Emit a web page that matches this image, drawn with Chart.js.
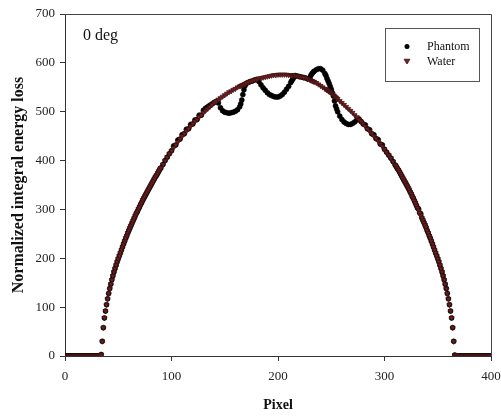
<!DOCTYPE html>
<html><head><meta charset="utf-8">
<script src="https://cdn.jsdelivr.net/npm/chart.js@4.4.1/dist/chart.umd.min.js"></script>
<style>html,body{margin:0;padding:0;background:#fff;overflow:hidden}</style>
</head><body>
<canvas id="c" width="501" height="417" style="display:block;width:501px;height:417px"></canvas>
<script>
const pixels = [0,1,2,3,4,5,6,7,8,9,10,11,12,13,14,15,16,17,18,19,20,21,22,23,24,25,26,27,28,29,30,31,32,33,34,35,36,37,38,39,40,41,42,43,44,45,46,47,48,49,50,51,52,53,54,55,56,57,58,59,60,61,62,63,64,65,66,67,68,69,70,71,72,73,74,75,76,77,78,79,80,81,82,83,84,85,86,87,88,89,90,
92,94,96,98,100,102,104,106,108,110,112,114,116,118,120,122,124,126,128,130,132,134,136,138,140,142,144,146,148,150,152,154,156,158,160,162,164,
165,166,167,168,169,170,
172,174,176,178,180,182,184,186,188,190,192,194,196,198,200,202,204,206,208,210,212,
213,214,215,216,
218,220,222,224,226,228,230,
231,232,233,234,
236,238,240,242,244,
245,246,247,248,249,250,251,252,253,254,255,256,
258,260,262,264,266,268,270,272,274,276,278,280,282,284,286,288,290,292,294,296,298,300,302,304,306,308,
310,311,312,313,314,315,316,317,318,319,320,321,322,323,324,325,326,327,328,329,330,331,332,333,334,335,336,337,338,339,340,341,342,343,344,345,346,347,348,349,350,351,352,353,354,355,356,357,358,359,360,361,362,363,364,365,366,367,368,369,370,371,372,373,374,375,376,377,378,379,380,381,382,383,384,385,386,387,388,389,390,391,392,393,394,395,396,397,398,399,400];

const water = [0,0,0,0,0,0,0,0,0,0,0,0,0,0,0,0,0,0,0,0,0,0,0,0,0,0,0,0,0,0,0,0,0,0,
3,30,58,78,92,105,117,128,138,147,156,164,
172,179,186,193,199,205,211,217,223,229,235,241,246,252,257,262,267,272,277,282,287,292,296,301,305,310,314,319,323,327,331,335,339,343,347,351,355,359,363,367,370,374,378,382,385,
392,400,407,414,420,426,432,438,444,450,455,460,465,470,475,480,484,489,493,498,502,506,510,514,518,521,525,528,531,534,537,540,542,545,547,550,552,
553,554,555,556,557,558,
560,562,563,565,566,568,569,570,571,572,573,574,575,575,576,576,576,576,576,575,575,
575,574,574,574,
573,572,571,570,569,567,565,
564,563,562,561,
559,556,553,550,547,
546,544,543,541,540,538,536,534,532,530,528,526,
522,518,514,510,506,502,498,493,489,484,480,475,470,465,460,455,450,445,440,434,429,423,417,411,405,398,
391,388,384,381,377,373,369,365,361,357,353,349,345,341,336,332,327,323,318,313,308,303,298,293,288,283,278,273,268,263,257,252,246,241,235,229,223,217,211,205,199,193,186,179,172,164,156,147,138,128,117,105,92,78,58,30,2,
0,0,0,0,0,0,0,0,0,0,0,0,0,0,0,0,0,0,0,0,0,0,0,0,0,0,0,0,0,0,0,0,0,0];

const phantom = [0,0,0,0,0,0,0,0,0,0,0,0,0,0,0,0,0,0,0,0,0,0,0,0,0,0,0,0,0,0,0,0,0,0,
3,30,58,78,92,105,117,128,138,147,156,164,
172,179,186,193,199,205,211,217,223,229,235,241,246,252,257,262,267,272,277,282,287,292,296,301,305,310,314,319,323,327,331,335,339,343,347,351,355,359,363,367,370,374,378,382,385,
392,400,407,414,420,430,432,442,444,453,455,464,465,474,475,483,484,493,493,503,507,510,513,516,519,521,518,508,502,499,498,497,498,499,501,504,510,
516,524,535,545,553,558,
560,562,563,565,566,562,555,549,544,539,535,533,531,530,530,532,535,540,546,552,560,
564,567,571,574,
573,572,571,570,569,567,570,
575,578,581,583,
586,588,588,585,578,
574,568,563,558,552,546,539,532,522,512,506,500,
491,484,479,476,474,474,476,479,483,485,480,475,473,465,463,455,453,445,443,434,432,423,417,411,405,398,
391,388,384,381,377,373,369,365,361,357,353,349,345,341,336,332,327,323,318,313,308,303,301,293,291,283,278,273,268,263,257,252,246,241,235,229,223,217,211,205,199,193,186,179,172,164,156,147,138,128,117,105,92,78,58,30,2,
0,0,0,0,0,0,0,0,0,0,0,0,0,0,0,0,0,0,0,0,0,0,0,0,0,0,0,0,0,0,0,0,0,0];

const xTicks = [0,100,200,300,400];
const yTicks = [0,100,200,300,400,500,600,700];
const seriesNames = ['Phantom','Water'];
const panelLabel = '0 deg';
const xTitle = 'Pixel';
const yTitle = 'Normalized integral energy loss';

const SERIF = "'Liberation Serif','Times New Roman',serif";
const phantomColor = '#000000';
const waterFill = '#6e2020';
const waterEdge = '#421111';
const axisColor = '#333333';

function drawCircle(ctx, x, y, r, fill) {
  ctx.beginPath(); ctx.arc(x, y, r, 0, Math.PI * 2); ctx.fillStyle = fill; ctx.fill();
}
function drawDownTriangle(ctx, x, y, r, fill, stroke) {
  ctx.beginPath();
  ctx.moveTo(x - r, y - r * 0.6);
  ctx.lineTo(x + r, y - r * 0.6);
  ctx.lineTo(x, y + r);
  ctx.closePath();
  ctx.fillStyle = fill; ctx.fill();
  ctx.strokeStyle = stroke; ctx.lineWidth = 0.8; ctx.stroke();
}

const framePlugin = {
  id: 'frameAndLegend',
  afterDraw(chart) {
    const {ctx, chartArea: a} = chart;
    ctx.save();
    ctx.strokeStyle = '#444'; ctx.lineWidth = 1;
    ctx.beginPath();
    ctx.moveTo(a.left, Math.round(a.top) + 0.5);
    ctx.lineTo(Math.round(a.right) + 0.5, Math.round(a.top) + 0.5);
    ctx.lineTo(Math.round(a.right) + 0.5, a.bottom);
    ctx.stroke();

    ctx.fillStyle = '#111';
    ctx.font = '16px ' + SERIF;
    ctx.textAlign = 'left'; ctx.textBaseline = 'alphabetic';
    ctx.fillText(panelLabel, a.left + 18, a.top + 26);

    const bx = Math.round(a.right) - 106, by = Math.round(a.top) + 14, bw = 94, bh = 53;
    ctx.strokeStyle = '#555'; ctx.lineWidth = 1;
    ctx.strokeRect(bx + 0.5, by + 0.5, bw, bh);
    ctx.font = '12px ' + SERIF;
    ctx.textBaseline = 'middle';
    drawCircle(ctx, bx + 22, by + 18.5, 2.5, phantomColor);
    ctx.fillStyle = '#111';
    ctx.fillText(seriesNames[0], bx + 42, by + 18.5);
    drawDownTriangle(ctx, bx + 22, by + 33, 3, waterFill, waterEdge);
    ctx.fillStyle = '#111';
    ctx.fillText(seriesNames[1], bx + 42, by + 33.5);
    ctx.restore();
  }
};

new Chart(document.getElementById('c'), {
  type: 'scatter',
  data: {
    datasets: [
      { label: seriesNames[0], data: pixels.map((x, i) => ({x: x, y: phantom[i]})), order: 1,
        pointStyle: 'circle', pointRadius: 2.5, pointBackgroundColor: phantomColor,
        pointBorderColor: phantomColor, pointBorderWidth: 0.6, showLine: false },
      { label: seriesNames[1], data: pixels.map((x, i) => ({x: x, y: water[i]})), order: 0,
        pointStyle: 'triangle', pointRotation: 180, pointRadius: 2.8, pointBackgroundColor: waterFill,
        pointBorderColor: waterEdge, pointBorderWidth: 0.8, showLine: false }
    ]
  },
  options: {
    responsive: false, animation: false, devicePixelRatio: 1, events: [],
    layout: {padding: {left: 0, right: 10, top: 14, bottom: 0}},
    plugins: {legend: {display: false}, tooltip: {enabled: false}},
    scales: {
      x: {
        type: 'linear', min: xTicks[0], max: xTicks[xTicks.length - 1],
        afterBuildTicks: s => { s.ticks = xTicks.map(v => ({value: v})); },
        ticks: {font: {family: SERIF, size: 13}, color: '#222', padding: 8, maxRotation: 0},
        grid: {drawOnChartArea: false, drawTicks: true, tickLength: 5, color: axisColor},
        border: {display: true, color: axisColor, width: 1},
        title: {display: true, text: xTitle, font: {family: SERIF, size: 14, weight: 'bold'}, color: '#111', padding: {top: 0, bottom: 3}},
        afterFit: s => { s.height = 61; s.paddingLeft = 0; s.paddingRight = 0; }
      },
      y: {
        type: 'linear', min: yTicks[0], max: yTicks[yTicks.length - 1],
        afterBuildTicks: s => { s.ticks = yTicks.map(v => ({value: v})); },
        ticks: {font: {family: SERIF, size: 13}, color: '#222', padding: 5},
        grid: {drawOnChartArea: false, drawTicks: true, tickLength: 5, color: axisColor},
        border: {display: true, color: axisColor, width: 1},
        title: {display: true, text: yTitle, font: {family: SERIF, size: 16, weight: 'bold'}, color: '#111', padding: {top: 9, bottom: 0}},
        afterFit: s => { s.width = 65; s.paddingTop = 0; s.paddingBottom = 0; }
      }
    }
  },
  plugins: [framePlugin]
});
</script>
</body></html>
